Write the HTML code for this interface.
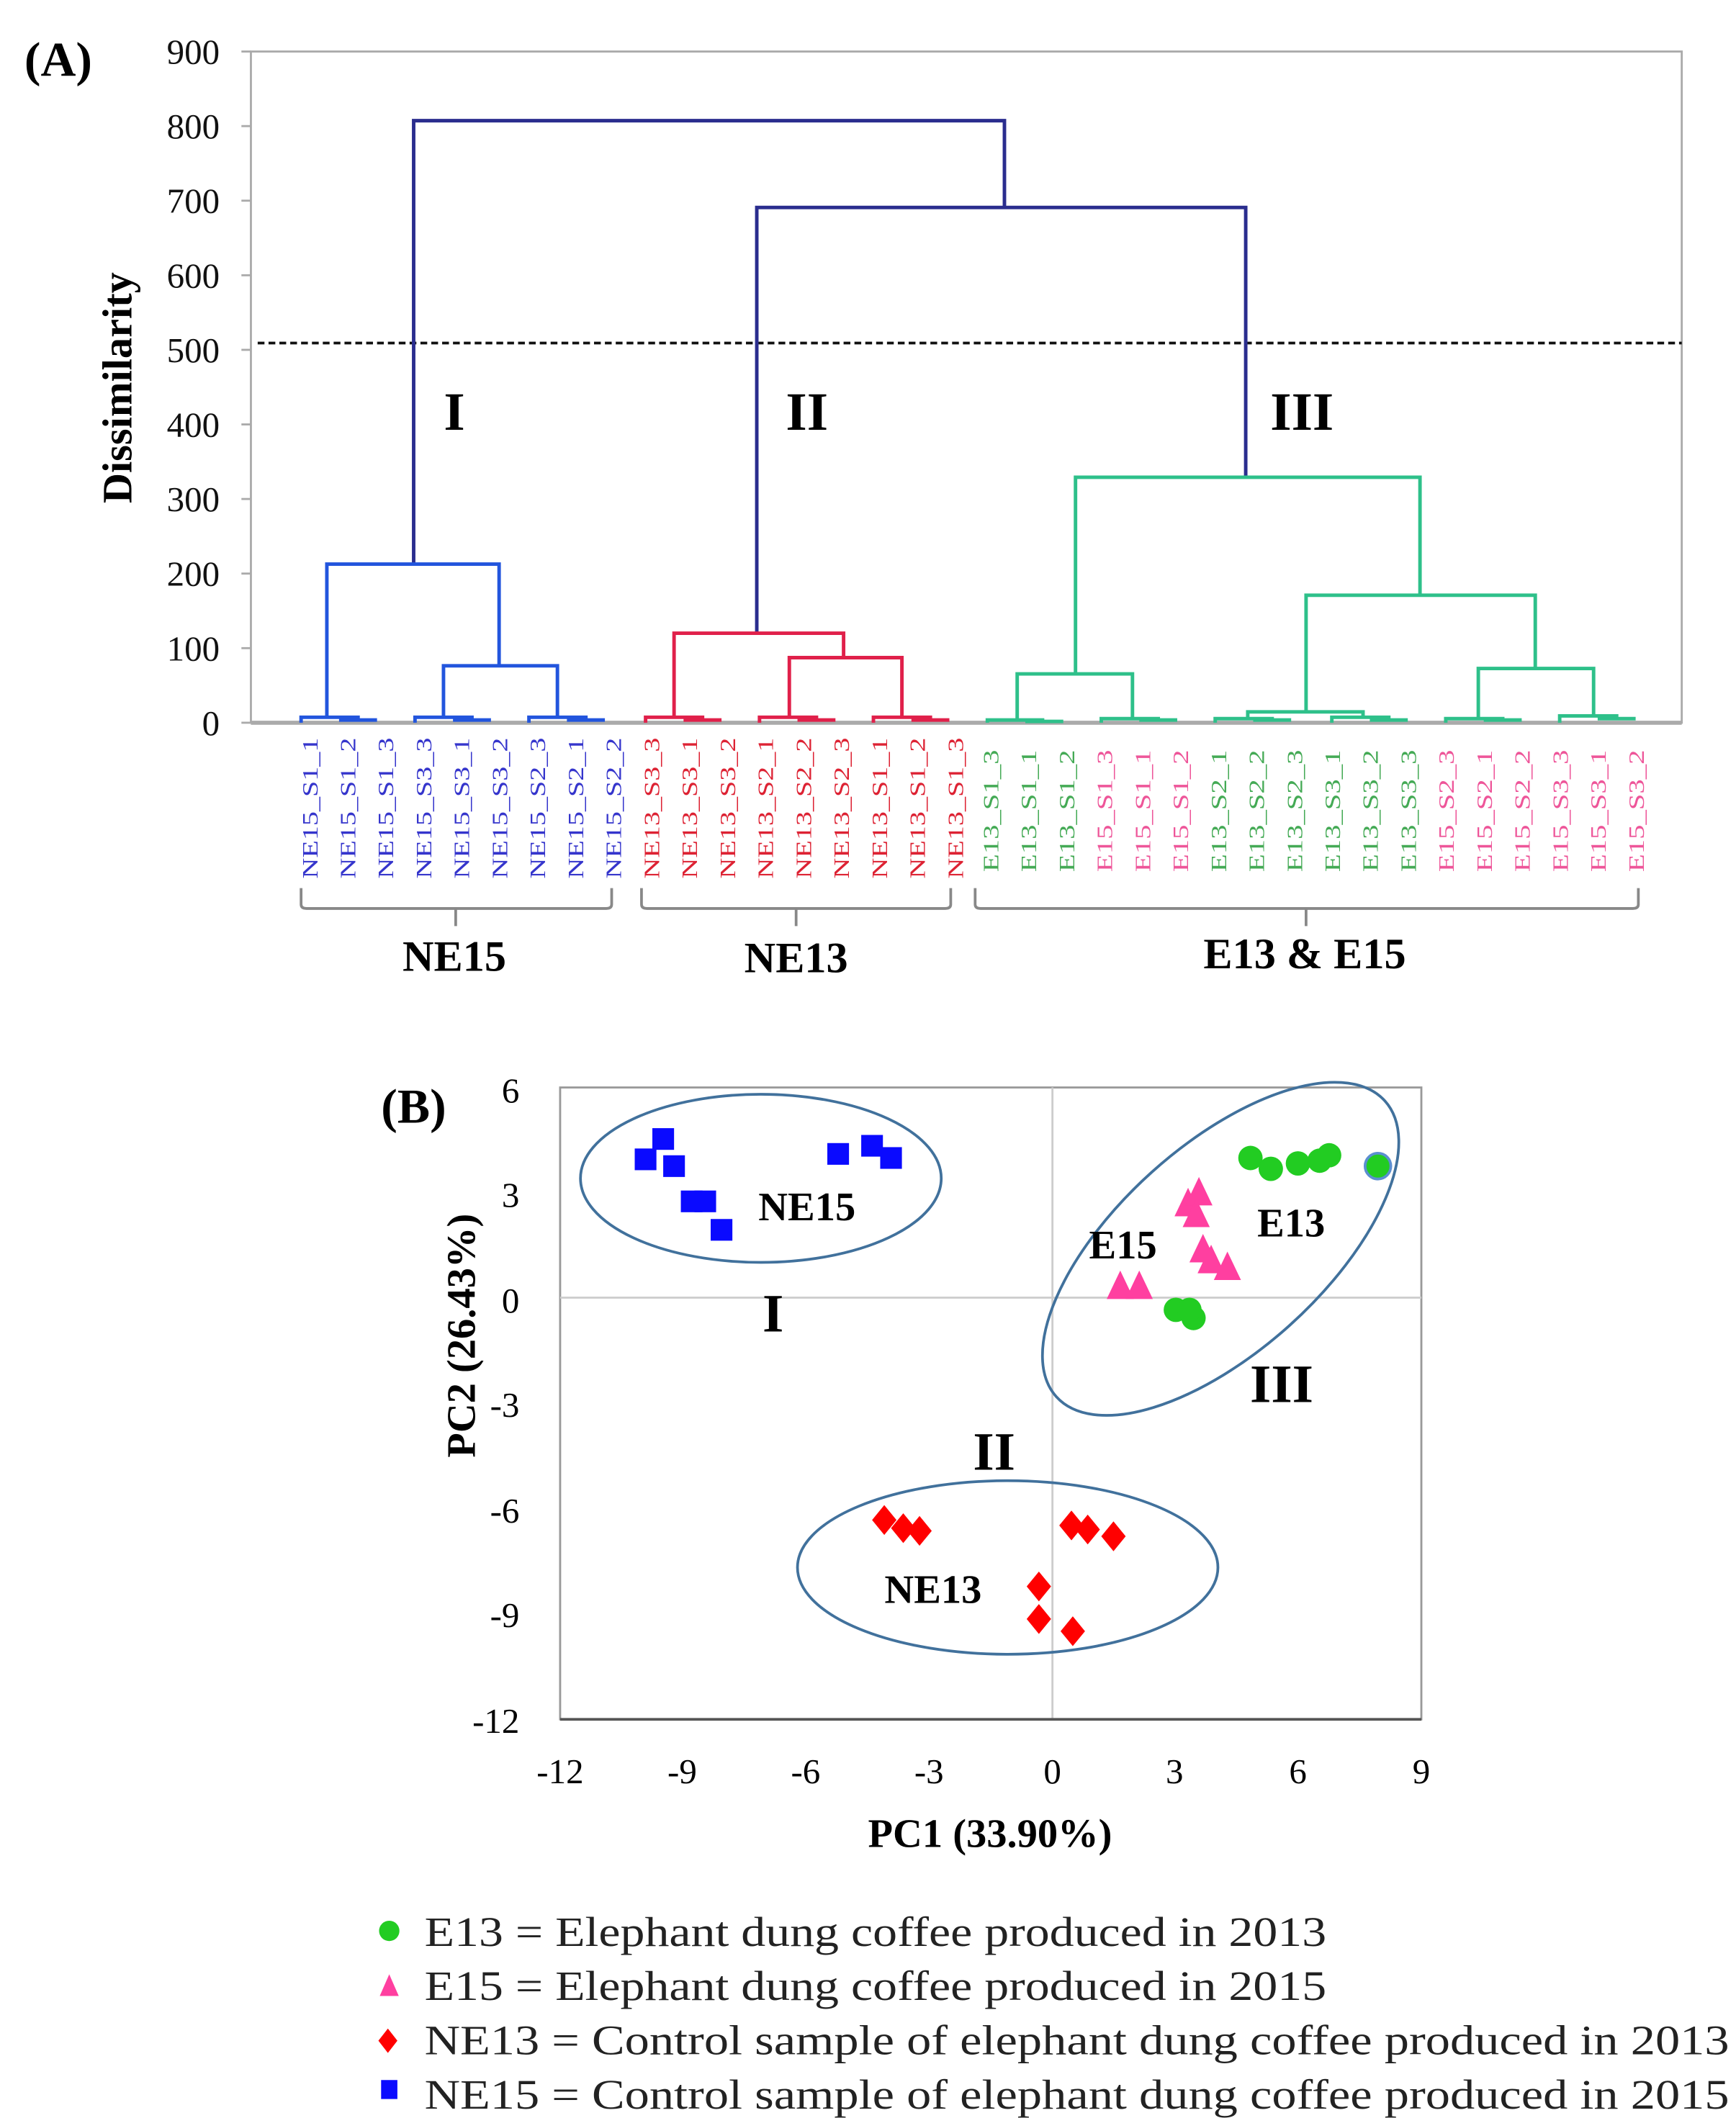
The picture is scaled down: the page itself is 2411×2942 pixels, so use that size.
<!DOCTYPE html>
<html><head><meta charset="utf-8"><style>html,body{margin:0;padding:0;background:#fff}svg{display:block}</style></head><body>
<svg width="2411" height="2942" viewBox="0 0 1280 1562" preserveAspectRatio="none" xmlns="http://www.w3.org/2000/svg" font-family="Liberation Serif, serif">
<rect width="1280" height="1562" fill="#fff"/>
<rect x="185" y="38" width="1055" height="495" fill="none" stroke="#aaa" stroke-width="1.5"/>
<line x1="185" y1="533" x2="1240" y2="533" stroke="#aaa" stroke-width="3"/>
<g stroke="#aaa" stroke-width="1.5">
<line x1="178" y1="38" x2="185" y2="38"/><line x1="178" y1="93" x2="185" y2="93"/><line x1="178" y1="148" x2="185" y2="148"/><line x1="178" y1="203" x2="185" y2="203"/><line x1="178" y1="258" x2="185" y2="258"/><line x1="178" y1="313" x2="185" y2="313"/><line x1="178" y1="368" x2="185" y2="368"/><line x1="178" y1="423" x2="185" y2="423"/><line x1="178" y1="478" x2="185" y2="478"/><line x1="178" y1="533" x2="185" y2="533"/>
</g>
<g font-size="26" text-anchor="end" fill="#111">
<text x="162" y="47">900</text><text x="162" y="102">800</text><text x="162" y="157">700</text><text x="162" y="212">600</text><text x="162" y="267">500</text><text x="162" y="322">400</text><text x="162" y="377">300</text><text x="162" y="432">200</text><text x="162" y="487">100</text><text x="162" y="542">0</text>
</g>
<text x="18" y="56" font-size="36" font-weight="bold">(A)</text>
<text transform="translate(97,286) rotate(-90)" font-size="31" font-weight="bold" text-anchor="middle">Dissimilarity</text>
<line x1="190" y1="253" x2="1240" y2="253" stroke="#111" stroke-width="2" stroke-dasharray="5,3"/>
<g fill="none" stroke-width="2.6">
<polyline stroke="#2a2d8e" points="305,416 305,89 740.6,89 740.6,153"/>
<polyline stroke="#2a2d8e" points="558,467 558,153 918.5,153 918.5,352"/>
<g stroke="#2255dd">
<polyline points="241,529 241,416 368,416 368,491"/>
<polyline points="327,529 327,491 411,491 411,529"/>
<polyline points="222,533 222,529 264,529 264,531"/><line x1="250" y1="531" x2="278" y2="531"/>
<polyline points="306,533 306,529 348,529 348,531"/><line x1="334" y1="531" x2="362" y2="531"/>
<polyline points="390,533 390,529 432,529 432,531"/><line x1="418" y1="531" x2="446" y2="531"/>
</g>
<g stroke="#e0204a">
<polyline points="497,529 497,467 622,467 622,485"/>
<polyline points="582,529 582,485 665,485 665,529"/>
<polyline points="476,533 476,529 518,529 518,531"/><line x1="504" y1="531" x2="532" y2="531"/>
<polyline points="560,533 560,529 602,529 602,531"/><line x1="588" y1="531" x2="616" y2="531"/>
<polyline points="644,533 644,529 686,529 686,531"/><line x1="672" y1="531" x2="700" y2="531"/>
</g>
<g stroke="#2ec08a">
<polyline points="793,497 793,352 1047,352 1047,439"/>
<polyline points="963,525 963,439 1132,439 1132,493"/>
<polyline points="750,531 750,497 835,497 835,531"/>
<polyline points="920,531 920,525 1005,525 1005,529"/>
<polyline points="1090,531 1090,493 1175,493 1175,529"/>
<polyline points="728,533 728,531 770,531"/><line x1="756" y1="532" x2="784" y2="532"/>
<polyline points="812,533 812,530 854,530 854,531"/><line x1="840" y1="531" x2="868" y2="531"/>
<polyline points="896,533 896,530 938,530 938,531"/><line x1="924" y1="531" x2="952" y2="531"/>
<polyline points="982,533 982,529 1024,529 1024,531"/><line x1="1010" y1="531" x2="1038" y2="531"/>
<polyline points="1066,533 1066,530 1108,530 1108,531"/><line x1="1094" y1="531" x2="1122" y2="531"/>
<polyline points="1150,533 1150,528 1192,528 1192,531"/><line x1="1178" y1="530" x2="1206" y2="530"/>
</g>
</g>
<g font-size="40" font-weight="bold" text-anchor="middle">
<text x="335" y="317">I</text><text x="595" y="317">II</text><text x="960" y="317">III</text>
</g>
<g font-size="16">
<g fill="#3535cc">
<text transform="translate(234,648) rotate(-90)" textLength="104" lengthAdjust="spacingAndGlyphs">NE15_S1_1</text>
<text transform="translate(262,648) rotate(-90)" textLength="104" lengthAdjust="spacingAndGlyphs">NE15_S1_2</text>
<text transform="translate(290,648) rotate(-90)" textLength="104" lengthAdjust="spacingAndGlyphs">NE15_S1_3</text>
<text transform="translate(318,648) rotate(-90)" textLength="104" lengthAdjust="spacingAndGlyphs">NE15_S3_3</text>
<text transform="translate(346,648) rotate(-90)" textLength="104" lengthAdjust="spacingAndGlyphs">NE15_S3_1</text>
<text transform="translate(374,648) rotate(-90)" textLength="104" lengthAdjust="spacingAndGlyphs">NE15_S3_2</text>
<text transform="translate(402,648) rotate(-90)" textLength="104" lengthAdjust="spacingAndGlyphs">NE15_S2_3</text>
<text transform="translate(430,648) rotate(-90)" textLength="104" lengthAdjust="spacingAndGlyphs">NE15_S2_1</text>
<text transform="translate(458,648) rotate(-90)" textLength="104" lengthAdjust="spacingAndGlyphs">NE15_S2_2</text>
</g>
<g fill="#dd2233">
<text transform="translate(486,648) rotate(-90)" textLength="104" lengthAdjust="spacingAndGlyphs">NE13_S3_3</text>
<text transform="translate(514,648) rotate(-90)" textLength="104" lengthAdjust="spacingAndGlyphs">NE13_S3_1</text>
<text transform="translate(542,648) rotate(-90)" textLength="104" lengthAdjust="spacingAndGlyphs">NE13_S3_2</text>
<text transform="translate(570,648) rotate(-90)" textLength="104" lengthAdjust="spacingAndGlyphs">NE13_S2_1</text>
<text transform="translate(598,648) rotate(-90)" textLength="104" lengthAdjust="spacingAndGlyphs">NE13_S2_2</text>
<text transform="translate(626,648) rotate(-90)" textLength="104" lengthAdjust="spacingAndGlyphs">NE13_S2_3</text>
<text transform="translate(654,648) rotate(-90)" textLength="104" lengthAdjust="spacingAndGlyphs">NE13_S1_1</text>
<text transform="translate(682,648) rotate(-90)" textLength="104" lengthAdjust="spacingAndGlyphs">NE13_S1_2</text>
<text transform="translate(710,648) rotate(-90)" textLength="104" lengthAdjust="spacingAndGlyphs">NE13_S1_3</text>
</g>
<g fill="#44aa55">
<text transform="translate(736,643) rotate(-90)" textLength="90" lengthAdjust="spacingAndGlyphs">E13_S1_3</text>
<text transform="translate(764,643) rotate(-90)" textLength="90" lengthAdjust="spacingAndGlyphs">E13_S1_1</text>
<text transform="translate(792,643) rotate(-90)" textLength="90" lengthAdjust="spacingAndGlyphs">E13_S1_2</text>
<text transform="translate(904,643) rotate(-90)" textLength="90" lengthAdjust="spacingAndGlyphs">E13_S2_1</text>
<text transform="translate(932,643) rotate(-90)" textLength="90" lengthAdjust="spacingAndGlyphs">E13_S2_2</text>
<text transform="translate(960,643) rotate(-90)" textLength="90" lengthAdjust="spacingAndGlyphs">E13_S2_3</text>
<text transform="translate(988,643) rotate(-90)" textLength="90" lengthAdjust="spacingAndGlyphs">E13_S3_1</text>
<text transform="translate(1016,643) rotate(-90)" textLength="90" lengthAdjust="spacingAndGlyphs">E13_S3_2</text>
<text transform="translate(1044,643) rotate(-90)" textLength="90" lengthAdjust="spacingAndGlyphs">E13_S3_3</text>
</g>
<g fill="#ee5599">
<text transform="translate(820,643) rotate(-90)" textLength="90" lengthAdjust="spacingAndGlyphs">E15_S1_3</text>
<text transform="translate(848,643) rotate(-90)" textLength="90" lengthAdjust="spacingAndGlyphs">E15_S1_1</text>
<text transform="translate(876,643) rotate(-90)" textLength="90" lengthAdjust="spacingAndGlyphs">E15_S1_2</text>
<text transform="translate(1072,643) rotate(-90)" textLength="90" lengthAdjust="spacingAndGlyphs">E15_S2_3</text>
<text transform="translate(1100,643) rotate(-90)" textLength="90" lengthAdjust="spacingAndGlyphs">E15_S2_1</text>
<text transform="translate(1128,643) rotate(-90)" textLength="90" lengthAdjust="spacingAndGlyphs">E15_S2_2</text>
<text transform="translate(1156,643) rotate(-90)" textLength="90" lengthAdjust="spacingAndGlyphs">E15_S3_3</text>
<text transform="translate(1184,643) rotate(-90)" textLength="90" lengthAdjust="spacingAndGlyphs">E15_S3_1</text>
<text transform="translate(1212,643) rotate(-90)" textLength="90" lengthAdjust="spacingAndGlyphs">E15_S3_2</text>
</g>
</g>
<g fill="none" stroke="#888" stroke-width="2">
<path d="M222,655 V667 Q222,670 226,670 H447 Q451,670 451,667 V655 M336,670 V683"/>
<path d="M473,655 V667 Q473,670 477,670 H697 Q701,670 701,667 V655 M587,670 V683"/>
<path d="M719,655 V667 Q719,670 723,670 H1204 Q1208,670 1208,667 V655 M963,670 V683"/>
</g>
<g font-size="32" font-weight="bold" text-anchor="middle">
<text x="335" y="716">NE15</text><text x="587" y="717">NE13</text><text x="962" y="714">E13 &amp; E15</text>
</g>
<rect x="413" y="802" width="635" height="466" fill="none" stroke="#999" stroke-width="1.5"/>
<line x1="776" y1="802" x2="776" y2="1268" stroke="#ccc" stroke-width="1.5"/>
<line x1="413" y1="957" x2="1048" y2="957" stroke="#ccc" stroke-width="1.5"/>
<line x1="413" y1="1268" x2="1048" y2="1268" stroke="#555" stroke-width="2"/>
<g font-size="26" text-anchor="end">
<text x="383" y="813">6</text><text x="383" y="890">3</text><text x="383" y="968">0</text><text x="383" y="1045">-3</text><text x="383" y="1123">-6</text><text x="383" y="1200">-9</text><text x="383" y="1278">-12</text>
</g>
<g font-size="26" text-anchor="middle">
<text x="413" y="1315">-12</text><text x="503" y="1315">-9</text><text x="594" y="1315">-6</text><text x="685" y="1315">-3</text><text x="776" y="1315">0</text><text x="866" y="1315">3</text><text x="957" y="1315">6</text><text x="1048" y="1315">9</text>
</g>
<text x="730" y="1362" font-size="30" font-weight="bold" text-anchor="middle">PC1 (33.90%)</text>
<text transform="translate(350,985) rotate(-90)" font-size="30" font-weight="bold" text-anchor="middle">PC2 (26.43%)</text>
<text x="281" y="828" font-size="36" font-weight="bold">(B)</text>
<g fill="none" stroke="#41719c" stroke-width="2">
<ellipse cx="561" cy="869" rx="133" ry="62"/>
<ellipse cx="743" cy="1156" rx="155" ry="64"/>
<ellipse cx="900" cy="921" rx="163" ry="76" transform="rotate(-42 900 921)"/>
</g>
<g fill="#0a0aff">
<rect x="468" y="847" width="16" height="16"/><rect x="481" y="832" width="16" height="16"/><rect x="489" y="852" width="16" height="16"/><rect x="502" y="878" width="16" height="16"/><rect x="512" y="878" width="16" height="16"/><rect x="524" y="899" width="16" height="16"/><rect x="610" y="843" width="16" height="16"/><rect x="635" y="837" width="16" height="16"/><rect x="649" y="846" width="16" height="16"/>
</g>
<g fill="#22cc22">
<circle cx="922" cy="854" r="9"/><circle cx="937" cy="862" r="9"/><circle cx="957" cy="858" r="9"/><circle cx="973" cy="856" r="9"/><circle cx="980" cy="852" r="9"/><circle cx="1016" cy="860" r="9.5" stroke="#5b8fd0" stroke-width="2"/><circle cx="867" cy="966" r="9"/><circle cx="880" cy="972" r="9"/><circle cx="877" cy="966" r="9"/>
</g>
<g fill="#ff3fa0">
<polygon points="876,876 866,897 886,897"/><polygon points="884,868 874,889 894,889"/><polygon points="882,884 872,905 892,905"/><polygon points="887,910 877,931 897,931"/><polygon points="893,918 883,939 903,939"/><polygon points="905,923 895,944 915,944"/><polygon points="826,937 816,958 836,958"/><polygon points="840,937 830,958 850,958"/>
</g>
<g fill="#ff0000">
<polygon points="652,1110 661,1121 652,1132 643,1121"/><polygon points="666,1116 675,1127 666,1138 657,1127"/><polygon points="678,1118 687,1129 678,1140 669,1129"/><polygon points="790,1114 799,1125 790,1136 781,1125"/><polygon points="802,1117 811,1128 802,1139 793,1128"/><polygon points="821,1122 830,1133 821,1144 812,1133"/><polygon points="766,1159 775,1170 766,1181 757,1170"/><polygon points="766,1183 775,1194 766,1205 757,1194"/><polygon points="791,1192 800,1203 791,1214 782,1203"/>
</g>
<g font-size="30" font-weight="bold" text-anchor="middle">
<text x="595" y="900">NE15</text><text x="952" y="912">E13</text><text x="828" y="928">E15</text><text x="688" y="1182">NE13</text>
</g>
<g font-size="40" font-weight="bold" text-anchor="middle">
<text x="570" y="982">I</text><text x="945" y="1034">III</text><text x="733" y="1084">II</text>
</g>
<circle cx="287" cy="1424" r="7.5" fill="#22cc22"/>
<polygon points="287,1456 280,1472 294,1472" fill="#ff3fa0"/>
<polygon points="286,1496 293,1505 286,1514 279,1505" fill="#ff0000"/>
<rect x="281" y="1534" width="12" height="14" fill="#0a0aff"/>
<g font-size="31" fill="#222">
<text x="313" y="1435" textLength="665" lengthAdjust="spacingAndGlyphs">E13 = Elephant dung coffee produced in 2013</text>
<text x="313" y="1475" textLength="665" lengthAdjust="spacingAndGlyphs">E15 = Elephant dung coffee produced in 2015</text>
<text x="313" y="1515" textLength="962" lengthAdjust="spacingAndGlyphs">NE13 = Control sample of elephant dung coffee produced in 2013</text>
<text x="313" y="1555" textLength="962" lengthAdjust="spacingAndGlyphs">NE15 = Control sample of elephant dung coffee produced in 2015</text>
</g>
</svg>
</body></html>
